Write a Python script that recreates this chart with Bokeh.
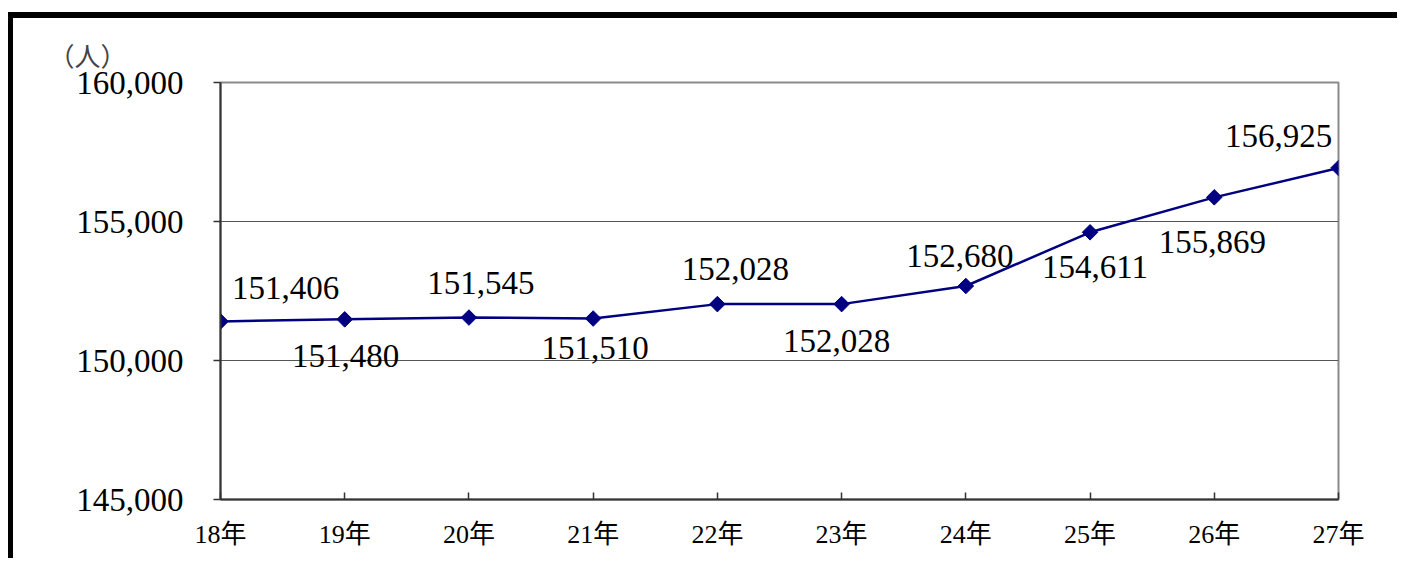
import math
from bokeh.plotting import figure
from bokeh.models import Range1d, FixedTicker, NumeralTickFormatter, ColumnDataSource
from bokeh.core.properties import value
from bokeh.embed import file_html
from bokeh.resources import INLINE

# data
years = ["18年", "19年", "20年", "21年", "22年", "23年", "24年", "25年", "26年", "27年"]
population = [151406, 151480, 151545, 151510, 152028, 152028, 152680, 154611, 155869, 156925]
y_ticks = [145000, 150000, 155000, 160000]
unit_label = "（人）"

# label placement (screen px)
lbl_dx = [65, 1, 12, 2, 18, -5, -6, 5, -2, -60]
lbl_dy = [-33, 37, -35, 29, -35, 37, -30, 35, 45, -32]

xs = list(range(len(years)))
labels = [f"{v:,}" for v in population]
src = ColumnDataSource(dict(x=xs, y=population, label=labels, dx=lbl_dx, dy=lbl_dy))

SERIF = "'Liberation Serif', 'Noto Sans CJK JP'"

p = figure(width=1389, height=546, output_backend="svg", toolbar_location=None,
           x_range=Range1d(0, len(years) - 1), y_range=Range1d(y_ticks[0], y_ticks[-1]),
           min_border_left=207, min_border_right=64, min_border_top=64, min_border_bottom=65,
           title=unit_label)
p.styles = {"border-top": "6px solid black", "border-left": "5px solid black",
            "margin-top": "12px", "margin-left": "8px"}

p.title.text_font = "Noto Sans CJK JP"
p.title.text_font_size = "26px"
p.title.text_font_style = "normal"
p.title.text_line_height = 1.0
p.title.align = "left"
p.title.offset = -172
p.title.standoff = 20

p.background_fill_color = "white"
p.border_fill_color = "white"
p.outline_line_color = "#8a8a8a"
p.outline_line_width = 2

# axes
p.xaxis.ticker = FixedTicker(ticks=xs)
p.xaxis.major_label_overrides = {i: y for i, y in enumerate(years)}
p.xaxis.major_tick_in = 7
p.xaxis.major_tick_out = 0
p.xaxis.minor_tick_line_color = None
p.xaxis.major_label_standoff = 20
p.xaxis.major_label_text_font = SERIF
p.xaxis.major_label_text_font_size = "26px"

p.yaxis.ticker = FixedTicker(ticks=y_ticks)
p.yaxis.formatter = NumeralTickFormatter(format="0,0")
p.yaxis.major_tick_in = 0
p.yaxis.major_tick_out = 7
p.yaxis.minor_tick_line_color = None
p.yaxis.major_label_standoff = 30
p.yaxis.major_label_text_font = SERIF
p.yaxis.major_label_text_font_size = "33px"

for ax in (p.xaxis, p.yaxis):
    ax.axis_line_color = "#333333"
    ax.axis_line_width = 2
    ax.major_tick_line_color = "#333333"
    ax.major_tick_line_width = 1.5
    ax.major_label_text_color = "black"

p.xgrid.grid_line_color = None
p.ygrid.ticker = FixedTicker(ticks=y_ticks)
p.ygrid.grid_line_color = "#555555"
p.ygrid.grid_line_width = 1

p.line("x", "y", source=src, line_color="#000080", line_width=2.5)
p.scatter("x", "y", source=src, marker="square", angle=math.pi / 4, size=11,
          fill_color="#000080", line_color="#000080")
p.text("x", "y", text="label", source=src, x_offset="dx", y_offset="dy",
       text_align="center", text_baseline="middle",
       text_font=value("Liberation Serif"), text_font_size="33px", text_color="black")

open("out.html", "w").write(file_html(p, INLINE))
